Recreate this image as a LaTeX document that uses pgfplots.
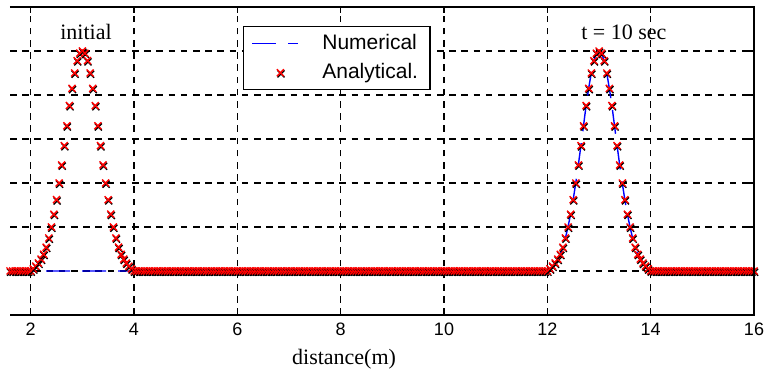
\documentclass[border=0pt]{standalone}
\usepackage{fontspec}
\setmainfont{Liberation Serif}
\setsansfont{Liberation Sans}
\usepackage{pgfplots}
\usepackage{pgfplotstable}
\pgfplotsset{compat=1.18}

\pgfdeclareplotmark{xb}{%
  \begin{pgfscope}%
    \pgfsetstrokecolor{black}%
    \pgftransformshift{\pgfqpoint{0.3pt}{-0.6pt}}%
    \pgfpathmoveto{\pgfqpoint{-0.7\pgfplotmarksize}{-0.7\pgfplotmarksize}}%
    \pgfpathlineto{\pgfqpoint{0.7\pgfplotmarksize}{0.7\pgfplotmarksize}}%
    \pgfpathmoveto{\pgfqpoint{-0.7\pgfplotmarksize}{0.7\pgfplotmarksize}}%
    \pgfpathlineto{\pgfqpoint{0.7\pgfplotmarksize}{-0.7\pgfplotmarksize}}%
    \pgfusepathqstroke%
  \end{pgfscope}%
  \pgfsetstrokecolor{red}%
  \pgfpathmoveto{\pgfqpoint{-0.7\pgfplotmarksize}{-0.7\pgfplotmarksize}}%
  \pgfpathlineto{\pgfqpoint{0.7\pgfplotmarksize}{0.7\pgfplotmarksize}}%
  \pgfpathmoveto{\pgfqpoint{-0.7\pgfplotmarksize}{0.7\pgfplotmarksize}}%
  \pgfpathlineto{\pgfqpoint{0.7\pgfplotmarksize}{-0.7\pgfplotmarksize}}%
  \pgfusepathqstroke%
}

\pgfplotsset{
  numleg/.style={legend image code/.code={%
    \path[draw=none] (0pt,-1pt) rectangle (33pt,1pt);%
    \draw[draw=blue, color=blue, line width=0.9pt, dash pattern=on 12pt off 6pt] (0pt,0pt) -- (23pt,0pt);}},
  analeg/.style={legend image code/.code={%
    \path[draw=none] (0pt,-1pt) rectangle (33pt,1pt);%
    \path[draw=none] plot[mark=xb, mark size=2.5pt, mark options={line width=0.7pt}] coordinates {(14pt,0pt)};}},
}

\pgfplotstableread[row sep=\\]{
x y\\
1.60 0\\1.65 0\\1.70 0\\1.75 0\\1.80 0\\1.85 0\\1.90 0\\1.95 0\\
2.00 0\\2.05 0.05\\2.10 0.11\\2.15 0.18\\2.20 0.27\\2.25 0.38\\2.30 0.54\\2.35 0.75\\2.40 1.00\\2.45 1.29\\
2.50 1.62\\2.55 2.00\\2.60 2.41\\2.65 2.85\\2.70 3.30\\2.75 3.76\\2.80 4.15\\2.85 4.50\\2.90 4.78\\2.95 4.95\\
3.00 5.00\\3.05 4.95\\3.10 4.78\\3.15 4.50\\3.20 4.15\\3.25 3.76\\3.30 3.30\\3.35 2.85\\3.40 2.41\\3.45 2.00\\
3.50 1.62\\3.55 1.29\\3.60 1.00\\3.65 0.75\\3.70 0.54\\3.75 0.38\\3.80 0.27\\3.85 0.18\\3.90 0.11\\3.95 0.05\\
4.00 0\\4.05 0\\4.10 0\\4.15 0\\4.20 0\\4.25 0\\4.30 0\\4.35 0\\4.40 0\\4.45 0\\
4.50 0\\4.55 0\\4.60 0\\4.65 0\\4.70 0\\4.75 0\\4.80 0\\4.85 0\\4.90 0\\4.95 0\\
5.00 0\\5.05 0\\5.10 0\\5.15 0\\5.20 0\\5.25 0\\5.30 0\\5.35 0\\5.40 0\\5.45 0\\
5.50 0\\5.55 0\\5.60 0\\5.65 0\\5.70 0\\5.75 0\\5.80 0\\5.85 0\\5.90 0\\5.95 0\\
6.00 0\\6.05 0\\6.10 0\\6.15 0\\6.20 0\\6.25 0\\6.30 0\\6.35 0\\6.40 0\\6.45 0\\
6.50 0\\6.55 0\\6.60 0\\6.65 0\\6.70 0\\6.75 0\\6.80 0\\6.85 0\\6.90 0\\6.95 0\\
7.00 0\\7.05 0\\7.10 0\\7.15 0\\7.20 0\\7.25 0\\7.30 0\\7.35 0\\7.40 0\\7.45 0\\
7.50 0\\7.55 0\\7.60 0\\7.65 0\\7.70 0\\7.75 0\\7.80 0\\7.85 0\\7.90 0\\7.95 0\\
8.00 0\\8.05 0\\8.10 0\\8.15 0\\8.20 0\\8.25 0\\8.30 0\\8.35 0\\8.40 0\\8.45 0\\
8.50 0\\8.55 0\\8.60 0\\8.65 0\\8.70 0\\8.75 0\\8.80 0\\8.85 0\\8.90 0\\8.95 0\\
9.00 0\\9.05 0\\9.10 0\\9.15 0\\9.20 0\\9.25 0\\9.30 0\\9.35 0\\9.40 0\\9.45 0\\
9.50 0\\9.55 0\\9.60 0\\9.65 0\\9.70 0\\9.75 0\\9.80 0\\9.85 0\\9.90 0\\9.95 0\\
10.00 0\\10.05 0\\10.10 0\\10.15 0\\10.20 0\\10.25 0\\10.30 0\\10.35 0\\10.40 0\\10.45 0\\
10.50 0\\10.55 0\\10.60 0\\10.65 0\\10.70 0\\10.75 0\\10.80 0\\10.85 0\\10.90 0\\10.95 0\\
11.00 0\\11.05 0\\11.10 0\\11.15 0\\11.20 0\\11.25 0\\11.30 0\\11.35 0\\11.40 0\\11.45 0\\
11.50 0\\11.55 0\\11.60 0\\11.65 0\\11.70 0\\11.75 0\\11.80 0\\11.85 0\\11.90 0\\11.95 0\\
12.00 0\\12.05 0.05\\12.10 0.11\\12.15 0.18\\12.20 0.27\\12.25 0.38\\12.30 0.54\\12.35 0.75\\12.40 1.00\\12.45 1.29\\
12.50 1.62\\12.55 2.00\\12.60 2.41\\12.65 2.85\\12.70 3.30\\12.75 3.76\\12.80 4.15\\12.85 4.50\\12.90 4.78\\12.95 4.95\\
13.00 5.00\\13.05 4.95\\13.10 4.78\\13.15 4.50\\13.20 4.15\\13.25 3.76\\13.30 3.30\\13.35 2.85\\13.40 2.41\\13.45 2.00\\
13.50 1.62\\13.55 1.29\\13.60 1.00\\13.65 0.75\\13.70 0.54\\13.75 0.38\\13.80 0.27\\13.85 0.18\\13.90 0.11\\13.95 0.05\\
14.00 0\\14.05 0\\14.10 0\\14.15 0\\14.20 0\\14.25 0\\14.30 0\\14.35 0\\14.40 0\\14.45 0\\
14.50 0\\14.55 0\\14.60 0\\14.65 0\\14.70 0\\14.75 0\\14.80 0\\14.85 0\\14.90 0\\14.95 0\\
15.00 0\\15.05 0\\15.10 0\\15.15 0\\15.20 0\\15.25 0\\15.30 0\\15.35 0\\15.40 0\\15.45 0\\
15.50 0\\15.55 0\\15.60 0\\15.65 0\\15.70 0\\15.75 0\\15.80 0\\15.85 0\\15.90 0\\15.95 0\\
16.00 0\\
}\analytical

\pgfplotstableread[row sep=\\]{
x y\\
1.60 0\\12.00 0\\12.05 0.05\\12.10 0.11\\12.15 0.18\\12.20 0.27\\12.25 0.38\\12.30 0.54\\12.35 0.75\\12.40 1.00\\12.45 1.29\\
12.50 1.62\\12.55 2.00\\12.60 2.41\\12.65 2.85\\12.70 3.30\\12.75 3.76\\12.80 4.15\\12.85 4.50\\12.90 4.78\\12.95 4.95\\
13.00 5.00\\13.05 4.95\\13.10 4.78\\13.15 4.50\\13.20 4.15\\13.25 3.76\\13.30 3.30\\13.35 2.85\\13.40 2.41\\13.45 2.00\\
13.50 1.62\\13.55 1.29\\13.60 1.00\\13.65 0.75\\13.70 0.54\\13.75 0.38\\13.80 0.27\\13.85 0.18\\13.90 0.11\\13.95 0.05\\
14.00 0\\16.00 0\\
}\numerical

\begin{document}
\begin{tikzpicture}
\begin{axis}[
  name=ax,
  scale only axis,
  width=372pt, height=154pt,
  xmin=1.6, xmax=16, ymin=-1, ymax=6,
  xtick={2,4,...,16},
  ytick={-1,0,...,6},
  yticklabels={},
  grid=major,
  major grid style={black, line width=0.6pt, dash pattern=on 3.3pt off 2.8pt},
  tick align=inside,
  major tick length=3pt,
  tick style={black, line width=0.6pt},
  axis line style={draw=none},
  /pgf/number format/assume math mode=true,
  tick label style={font=\sffamily\fontsize{9}{10}\selectfont},
  xticklabel style={yshift=-0.5pt},
  xlabel={distance(m)},
  x label style={at={(axis description cs:0.449,0)}, anchor=base, yshift=-25pt, font=\fontsize{11}{13}\selectfont},
  legend style={at={(axis description cs:0.313,0.939)}, anchor=north west,
    draw=black, line width=0.6pt, fill=white,
    font=\sffamily\fontsize{10.5}{12}\selectfont,
    inner xsep=4pt, inner ysep=2pt, row sep=1.5pt},
  legend cell align=left,
]
\addplot[blue, line width=0.7pt, dash pattern=on 12pt off 6pt, numleg]
  table[x=x, y=y] {\numerical};
\addlegendentry{Numerical}
\addplot[only marks, mark=xb, mark size=2.5pt, line width=0.7pt, analeg]
  table[x=x, y=y] {\analytical};
\addlegendentry{Analytical.}
\node[anchor=base, font=\fontsize{11}{13}\selectfont] at (axis cs:3.07,5.27) {initial};
\node[anchor=base, font=\fontsize{11}{13}\selectfont] at (axis cs:13.48,5.27) {t = 10 sec};
\end{axis}
\draw[black, line width=0.9pt] (ax.north west) -- (ax.north east) -- (ax.south east) -- (ax.south west);
\pgfresetboundingbox
\path[use as bounding box] ([shift={(-5pt,-28.5pt)}]ax.south west) rectangle ([shift={(6pt,3.5pt)}]ax.north east);
\end{tikzpicture}
\end{document}
